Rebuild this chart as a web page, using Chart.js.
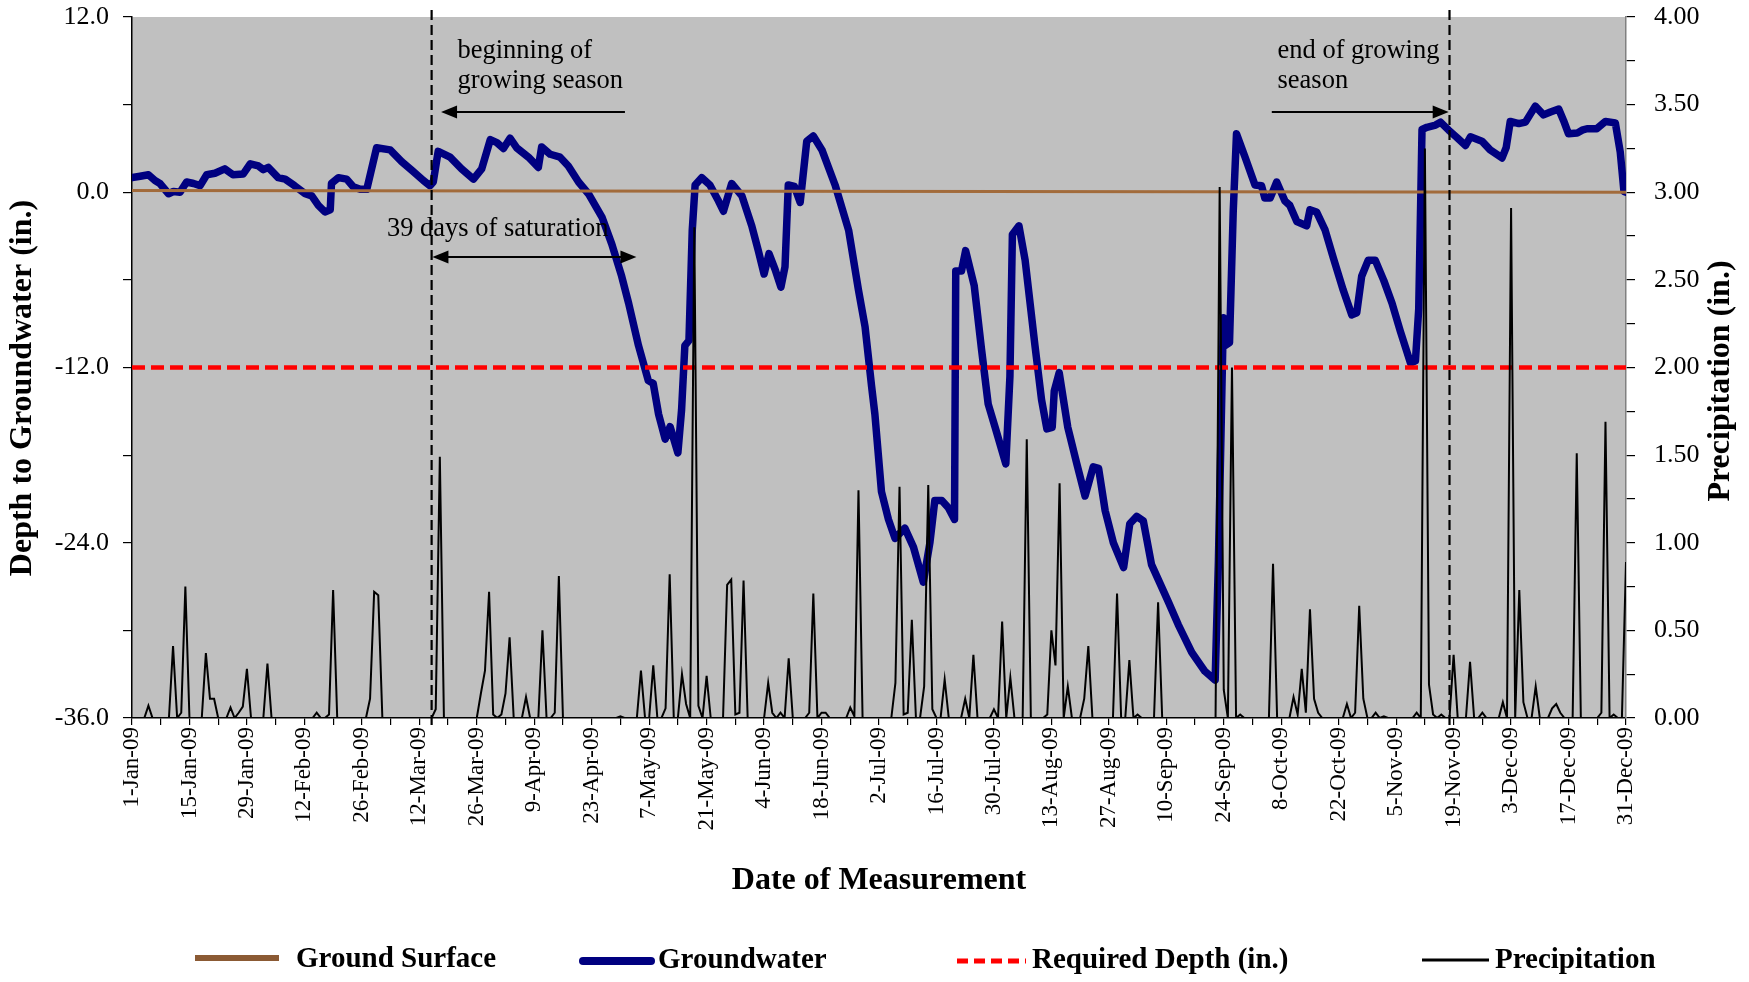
<!DOCTYPE html>
<html><head><meta charset="utf-8">
<script src="https://cdn.jsdelivr.net/npm/chart.js@4.4.1/dist/chart.umd.min.js"></script>
<style>html,body{margin:0;padding:0;background:#fff;}canvas{display:block;}</style>
</head><body>
<canvas id="c" width="1749" height="982"></canvas>
<script>
// ---- tick labels (every 14 days, day 0 = 1-Jan-09) ----
const xTickLabels = ['1-Jan-09','15-Jan-09','29-Jan-09','12-Feb-09','26-Feb-09','12-Mar-09','26-Mar-09','9-Apr-09','23-Apr-09','7-May-09','21-May-09','4-Jun-09','18-Jun-09','2-Jul-09','16-Jul-09','30-Jul-09','13-Aug-09','27-Aug-09','10-Sep-09','24-Sep-09','8-Oct-09','22-Oct-09','5-Nov-09','19-Nov-09','3-Dec-09','17-Dec-09','31-Dec-09'];

// ---- groundwater readings: [day of year (0 = 1-Jan), depth in.] ----
const groundwater = [[0,1.0],[2,1.1],[4,1.2],[5.6,0.8],[6.8,0.6],[8.9,-0.1],[10.1,0.05],[11.7,0.0],[13.3,0.7],[15,0.6],[16.6,0.45],[18.2,1.2],[20.2,1.3],[22.6,1.6],[24.6,1.2],[27.1,1.25],[28.8,1.95],[30.8,1.8],[32,1.55],[33.2,1.7],[35.6,1.0],[37.3,0.9],[39.6,0.45],[42.2,-0.1],[43.8,-0.25],[45.4,-0.9],[47,-1.35],[48.3,-1.2],[48.6,0.6],[50.3,1.0],[52.3,0.9],[53.9,0.38],[55.6,0.2],[57.2,0.2],[59.6,3.05],[62.9,2.9],[65.7,2.1],[68.2,1.5],[71,0.8],[72.6,0.45],[73.4,0.7],[74.6,2.8],[77.5,2.4],[80.3,1.6],[83.2,0.9],[85.2,1.6],[87.3,3.6],[88.9,3.4],[90.5,3.0],[92.1,3.7],[93.7,3.05],[96.6,2.4],[99,1.7],[99.8,3.1],[101.9,2.6],[104.3,2.4],[106.3,1.8],[108.8,0.7],[111.2,-0.1],[114.5,-1.7],[116.9,-3.55],[119.3,-5.75],[121,-7.6],[123.4,-10.5],[125.8,-12.9],[127,-13.1],[128.3,-15.2],[129.9,-16.9],[131.1,-16.05],[133,-17.85],[133.9,-14.9],[134.7,-10.5],[135.7,-10.15],[136.5,-2.6],[137.2,0.5],[138.8,1.0],[140.8,0.5],[142.9,-0.6],[144.1,-1.3],[146.1,0.6],[148.6,-0.25],[151,-2.3],[152.6,-4.0],[154,-5.6],[155.2,-4.2],[156.7,-5.3],[158.1,-6.5],[159.1,-5.1],[159.9,0.5],[161.4,0.4],[162.8,-0.7],[164.4,3.5],[166,3.85],[168.1,2.9],[171.3,0.5],[174.6,-2.6],[177,-6.7],[178.6,-9.2],[180.2,-13.3],[181,-15.2],[182.6,-20.5],[184.3,-22.4],[185.9,-23.7],[188.3,-23.0],[190.4,-24.3],[192.8,-26.7],[194.4,-24.0],[195.6,-21.1],[197.3,-21.1],[198.9,-21.6],[200.4,-22.4],[200.7,-5.4],[202.1,-5.4],[203.1,-4.0],[205.2,-6.4],[207,-10.8],[208.6,-14.5],[210.3,-16.1],[212.9,-18.6],[213.9,-12.6],[214.5,-2.9],[216.1,-2.3],[217.6,-4.65],[220,-10.5],[221.6,-14.2],[222.9,-16.2],[224.2,-16.1],[224.7,-13.6],[225.9,-12.35],[228,-16.1],[230.2,-18.6],[232.2,-20.8],[234.2,-18.8],[235.5,-18.9],[237.1,-21.8],[239.1,-24.0],[241.6,-25.7],[243.1,-22.7],[244.8,-22.2],[246.4,-22.5],[248.4,-25.5],[252.5,-28.05],[254.9,-29.6],[258.2,-31.5],[261.4,-32.8],[263.9,-33.4],[264.7,-25.2],[265.9,-8.6],[266.3,-10.5],[267.4,-10.3],[268.3,-1.35],[269.1,4.0],[271.2,2.4],[273.6,0.5],[275.2,0.44],[276,-0.4],[277.3,-0.4],[278.9,0.7],[280.9,-0.6],[282.1,-0.9],[283.8,-2.0],[286.2,-2.3],[287,-1.2],[288.6,-1.35],[290.7,-2.6],[292.7,-4.5],[295.1,-6.7],[297.2,-8.4],[298.4,-8.25],[299.6,-5.75],[301.2,-4.65],[302.9,-4.65],[305,-6.05],[307,-7.6],[309,-9.5],[311.5,-11.7],[312.7,-11.55],[313.5,-8.0],[314.3,4.3],[315.5,4.45],[317.6,4.6],[318.8,4.8],[320.8,4.25],[322.8,3.75],[324.9,3.2],[326.1,3.8],[328.9,3.5],[330.9,2.9],[333.8,2.35],[334.8,3.05],[335.8,4.85],[337.9,4.7],[339.5,4.8],[341.9,5.9],[343.9,5.3],[345.6,5.5],[347.6,5.7],[348.8,4.9],[350,4.0],[352.1,4.05],[353.3,4.25],[354.5,4.35],[356.9,4.35],[359,4.85],[361.4,4.75],[362.6,2.75],[363.5,0.05],[364,0.0]];

// ---- ground surface and required depth ----
const groundSurface = [[0,0.12],[364,0.0]];
const requiredDepth = [[0,-12],[364,-12]];

// ---- daily precipitation, days with rain: [day, inches]; all other days 0 ----
const rainEvents = [[4,0.07],[10,0.41],[12,0.03],[13,0.75],[18,0.37],[19,0.11],[20,0.11],[24,0.06],[26,0.03],[27,0.065],[28,0.28],[33,0.31],[45,0.03],[48,0.02],[49,0.73],[58,0.11],[59,0.72],[60,0.70],[74,0.05],[75,1.49],[85,0.14],[86,0.27],[87,0.72],[88,0.02],[90,0.02],[91,0.14],[92,0.46],[96,0.12],[100,0.50],[103,0.03],[104,0.81],[119,0.01],[124,0.27],[127,0.30],[130,0.055],[131,0.82],[134,0.25],[135,0.08],[137,2.80],[138,0.07],[140,0.24],[145,0.76],[146,0.79],[147,0.02],[148,0.03],[149,0.785],[155,0.20],[156,0.03],[158,0.03],[160,0.34],[165,0.03],[166,0.71],[168,0.03],[169,0.03],[175,0.06],[176,0.01],[177,1.30],[186,0.20],[187,1.32],[188,0.02],[189,0.03],[190,0.56],[193,0.18],[194,1.33],[195,0.05],[198,0.22],[203,0.11],[205,0.36],[210,0.05],[212,0.55],[214,0.23],[218,1.59],[223,0.02],[224,0.50],[225,0.30],[226,1.34],[228,0.18],[232,0.11],[233,0.41],[240,0.71],[243,0.33],[245,0.02],[250,0.66],[265,3.03],[266,0.16],[268,2.00],[270,0.02],[278,0.88],[283,0.12],[284,0.02],[285,0.28],[286,0.03],[287,0.62],[288,0.11],[289,0.03],[296,0.08],[298,0.03],[299,0.64],[300,0.11],[303,0.03],[305,0.01],[313,0.03],[315,3.25],[316,0.19],[317,0.02],[319,0.02],[322,0.36],[326,0.32],[329,0.03],[334,0.09],[336,2.91],[338,0.73],[339,0.09],[342,0.18],[346,0.055],[347,0.08],[348,0.03],[352,1.51],[358,0.03],[359,1.69],[361,0.02],[364,0.89]];
const yearDays = 365;

// ---- growing season markers (day of year) ----
const seasonDays = [73, 321];
const legendLabels = ['Ground Surface','Groundwater','Required Depth (in.)','Precipitation'];

// ---- build datasets ----
const rainMap = new Map(rainEvents);
const precipPts = [];
for (let d = 0; d < yearDays; d++) precipPts.push({x: d, y: rainMap.has(d) ? rainMap.get(d) : 0});
const toPts = arr => arr.map(([x, y]) => ({x, y}));

const SERIF = "'Liberation Serif', 'Times New Roman', serif";
const BROWN = '#A26B3B';

const plotBg = {
  id: 'plotBg',
  beforeDraw(chart) {
    const {ctx, chartArea: a} = chart;
    ctx.save();
    ctx.fillStyle = '#fff';
    ctx.fillRect(0, 0, chart.width, chart.height);
    ctx.fillStyle = '#C0C0C0';
    ctx.fillRect(a.left, a.top, a.right - a.left, a.bottom - a.top);
    ctx.restore();
  }
};

function arrowHead(ctx, tipX, tipY, dir) {
  ctx.beginPath();
  ctx.moveTo(tipX, tipY);
  ctx.lineTo(tipX - dir * 16, tipY - 6.5);
  ctx.lineTo(tipX - dir * 16, tipY + 6.5);
  ctx.closePath();
  ctx.fill();
}

const notes = {
  id: 'notes',
  afterDatasetsDraw(chart) {
    const {ctx, chartArea: a, scales: {x, y}} = chart;
    const X = v => x.getPixelForValue(v), Y = v => y.getPixelForValue(v);
    ctx.save();
    ctx.strokeStyle = '#000';
    ctx.fillStyle = '#000';
    ctx.lineWidth = 2.2;
    ctx.setLineDash([10, 5]);
    seasonDays.forEach(d => {
      ctx.beginPath();
      ctx.moveTo(X(d), a.top - 7);
      ctx.lineTo(X(d), a.bottom + 9);
      ctx.stroke();
    });
    ctx.setLineDash([]);
    ctx.font = '26.5px ' + SERIF;
    ctx.textBaseline = 'middle';
    ctx.textAlign = 'left';
    ctx.fillText('beginning of', X(79.3), Y(9.7));
    ctx.fillText('growing season', X(79.3), Y(7.6));
    ctx.fillText('39 days of saturation', X(62.1), Y(-2.55));
    ctx.fillText('end of growing', X(279.1), Y(9.7));
    ctx.fillText('season', X(279.1), Y(7.6));
    ctx.lineWidth = 2;
    // beginning arrow (pointing left)
    ctx.beginPath(); ctx.moveTo(X(120.1), Y(5.5)); ctx.lineTo(X(75.3) + 10, Y(5.5)); ctx.stroke();
    arrowHead(ctx, X(75.3), Y(5.5), -1);
    // saturation double arrow
    ctx.beginPath(); ctx.moveTo(X(73.2) + 10, Y(-4.43)); ctx.lineTo(X(122.9) - 10, Y(-4.43)); ctx.stroke();
    arrowHead(ctx, X(73.2), Y(-4.43), -1);
    arrowHead(ctx, X(122.9), Y(-4.43), 1);
    // end arrow (pointing right)
    ctx.beginPath(); ctx.moveTo(X(277.7), Y(5.5)); ctx.lineTo(X(320.8) - 10, Y(5.5)); ctx.stroke();
    arrowHead(ctx, X(320.8), Y(5.5), 1);
    ctx.restore();
  }
};

const extras = {
  id: 'extras',
  afterDraw(chart) {
    const {ctx} = chart;
    ctx.save();
    ctx.fillStyle = '#000';
    ctx.font = 'bold 32px ' + SERIF;
    ctx.textAlign = 'center';
    ctx.textBaseline = 'middle';
    // y axis titles (both read bottom-to-top)
    ctx.save(); ctx.translate(23, 388); ctx.rotate(-Math.PI / 2);
    ctx.fillText('Depth to Groundwater (in.)', 0, 0); ctx.restore();
    ctx.save(); ctx.translate(1721, 381); ctx.rotate(-Math.PI / 2);
    ctx.fillText('Precipitation (in.)', 0, 0); ctx.restore();
    // legend
    const ly = 960;
    ctx.font = 'bold 29px ' + SERIF;
    ctx.textAlign = 'left';
    ctx.lineCap = 'butt';
    ctx.strokeStyle = '#8B5A34'; ctx.lineWidth = 6;
    ctx.beginPath(); ctx.moveTo(195, ly - 2); ctx.lineTo(279, ly - 2); ctx.stroke();
    ctx.fillText(legendLabels[0], 296, ly);
    ctx.strokeStyle = '#000080'; ctx.lineWidth = 8; ctx.lineCap = 'round';
    ctx.beginPath(); ctx.moveTo(583, ly + 1); ctx.lineTo(651, ly + 1); ctx.stroke();
    ctx.fillText(legendLabels[1], 658, ly + 1);
    ctx.strokeStyle = '#FF0000'; ctx.lineWidth = 5; ctx.lineCap = 'butt';
    ctx.setLineDash([11, 6]);
    ctx.beginPath(); ctx.moveTo(957, ly + 1); ctx.lineTo(1026, ly + 1); ctx.stroke();
    ctx.setLineDash([]);
    ctx.fillText(legendLabels[2], 1032, ly + 1);
    ctx.strokeStyle = '#000'; ctx.lineWidth = 3;
    ctx.beginPath(); ctx.moveTo(1422, ly); ctx.lineTo(1489, ly); ctx.stroke();
    ctx.fillText(legendLabels[3], 1495, ly + 1);
    ctx.restore();
  }
};

function fixVertical(width) {
  return s => { s.width = width; s.paddingTop = 0; s.paddingBottom = 0; };
}

new Chart(document.getElementById('c'), {
  type: 'line',
  data: {
    datasets: [
      {label: 'Precipitation', data: precipPts, yAxisID: 'y2', borderColor: '#000', borderWidth: 2, pointRadius: 0, tension: 0, order: 0},
      {label: 'Required Depth (in.)', data: toPts(requiredDepth), yAxisID: 'y', borderColor: '#FF0000', borderWidth: 4.5, borderDash: [13, 6], pointRadius: 0, order: 1},
      {label: 'Ground Surface', data: toPts(groundSurface), yAxisID: 'y', borderColor: BROWN, borderWidth: 3, pointRadius: 0, order: 2},
      {label: 'Groundwater', data: toPts(groundwater), yAxisID: 'y', borderColor: '#000080', borderWidth: 7.5, pointRadius: 0, tension: 0, borderJoinStyle: 'round', borderCapStyle: 'round', order: 3}
    ]
  },
  options: {
    responsive: false,
    animation: false,
    layout: {padding: {top: 17, left: 0, right: 0, bottom: 82}},
    plugins: {legend: {display: false}, tooltip: {enabled: false}},
    scales: {
      x: {
        type: 'linear', position: 'bottom', min: 0, max: 364,
        ticks: {stepSize: 7, autoSkip: false, maxRotation: 90, minRotation: 90, padding: 2, color: '#000',
          font: {family: SERIF, size: 23},
          callback: v => (v % 14 === 0 ? xTickLabels[v / 14] : '')},
        grid: {drawOnChartArea: false, drawTicks: true, tickLength: 7, color: '#000', lineWidth: 1.2},
        border: {display: true, color: '#000', width: 1.5},
        title: {display: true, text: 'Date of Measurement', color: '#000', font: {family: SERIF, size: 32, weight: 'bold'}, padding: {top: 0, bottom: 0}},
        afterFit(s) { s.height = 182; s.paddingLeft = 0; s.paddingRight = 0; }
      },
      y: {
        type: 'linear', position: 'left', min: -36, max: 12,
        ticks: {stepSize: 6, autoSkip: false, padding: 14, color: '#000', font: {family: SERIF, size: 26},
          callback: v => (v % 12 === 0 ? v.toFixed(1) : '')},
        grid: {drawOnChartArea: false, drawTicks: true, tickLength: 9, color: '#000', lineWidth: 1.2},
        border: {display: true, color: '#000', width: 1.5},
        afterFit: fixVertical(132)
      },
      y2: {
        type: 'linear', position: 'right', min: 0, max: 4,
        ticks: {stepSize: 0.25, autoSkip: false, padding: 19, color: '#000', font: {family: SERIF, size: 26},
          callback: v => (Math.round(v * 4) % 2 === 0 ? v.toFixed(2) : '')},
        grid: {drawOnChartArea: false, drawTicks: true, tickLength: 9, color: '#000', lineWidth: 1.2},
        border: {display: true, color: '#808080', width: 1.5},
        afterFit: fixVertical(123)
      }
    }
  },
  plugins: [plotBg, notes, extras]
});
</script>
</body></html>
